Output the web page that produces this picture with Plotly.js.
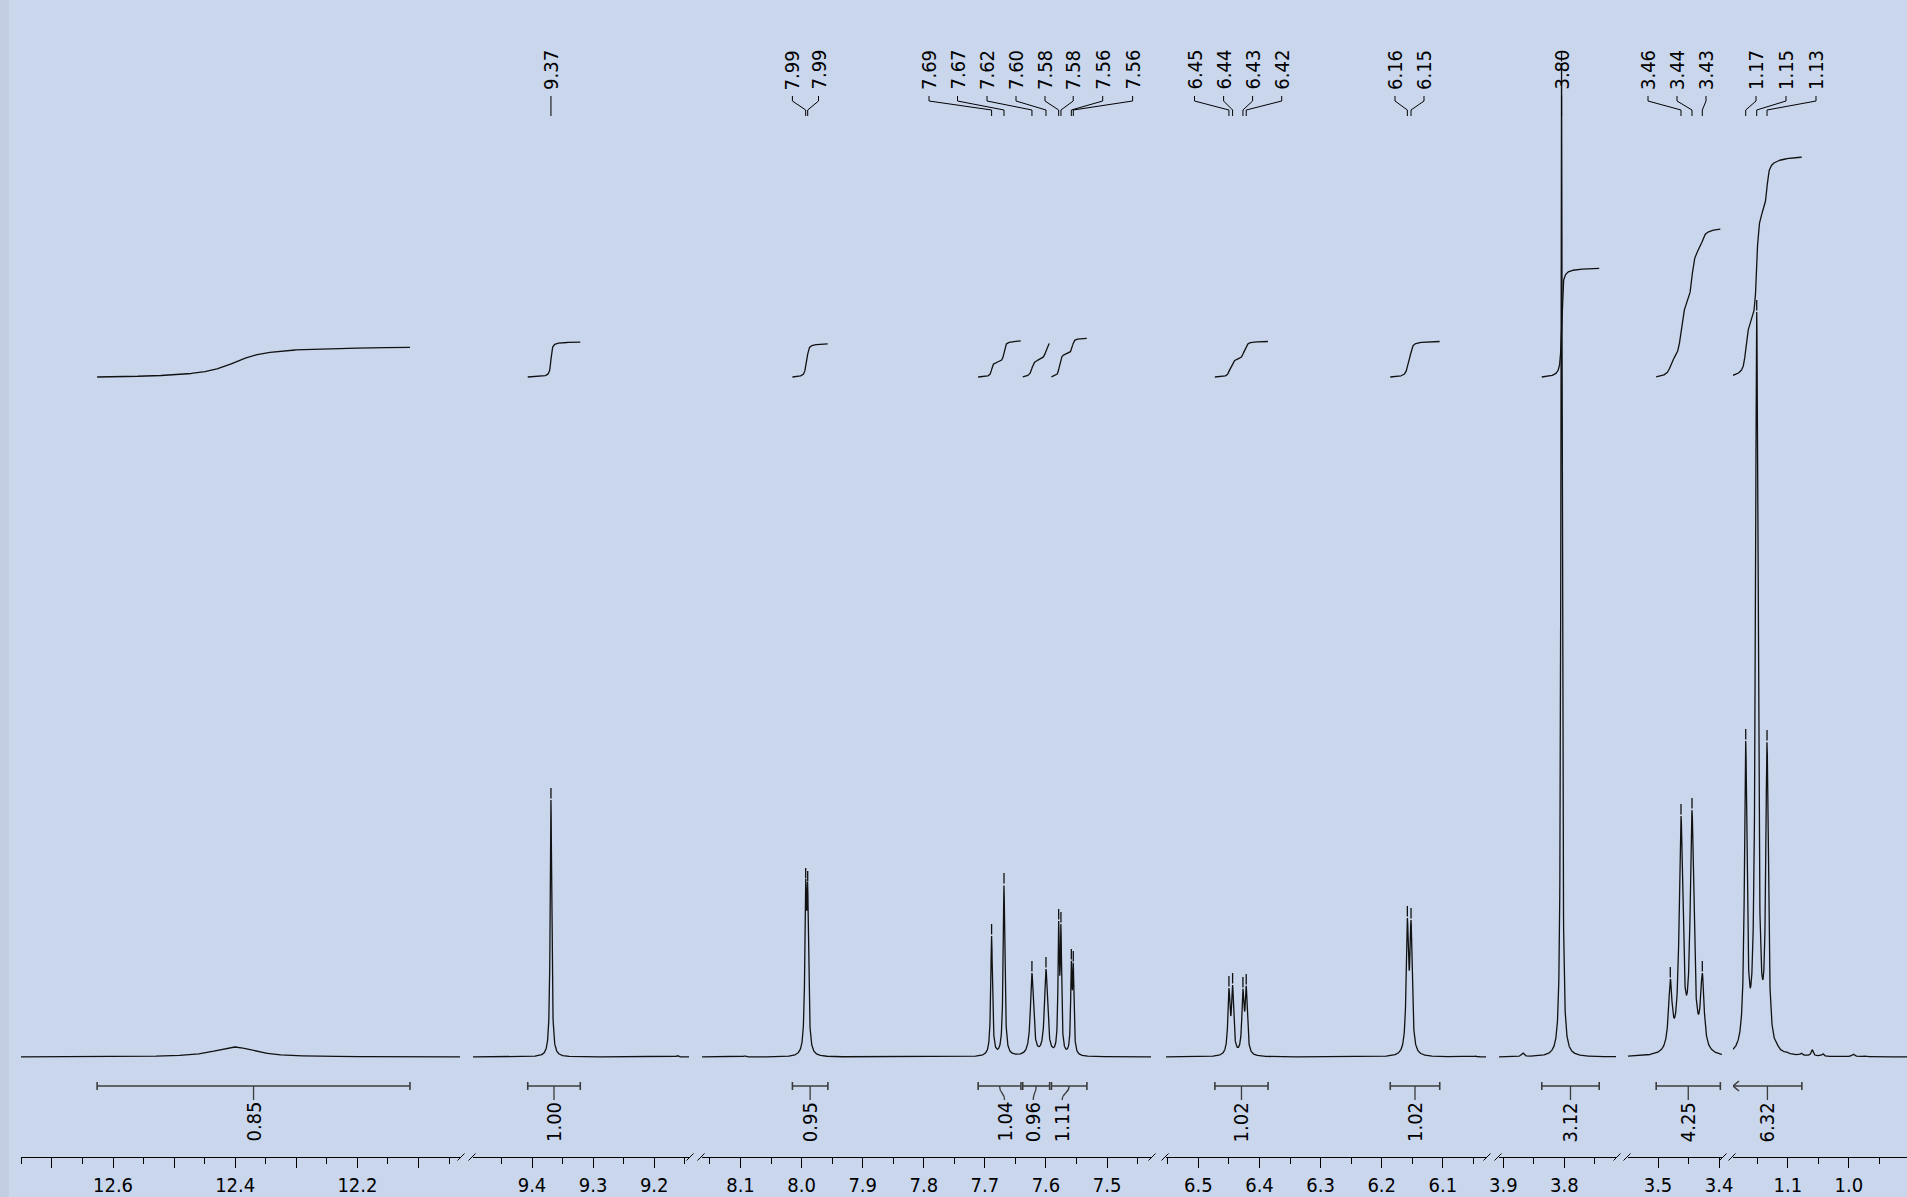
<!DOCTYPE html>
<html><head><meta charset="utf-8">
<script src="https://cdn.plot.ly/plotly-3.0.1.min.js"></script>
<style>html,body{margin:0;padding:0;background:#C9D6EC;}#chart{width:1907px;height:1197px;}</style>
</head><body><div id="chart"></div>
<script>
// ================= DATA =================
// broken ppm axis: visible windows (high -> low ppm)
const segStartPpm = [12.7506, 9.4966, 8.1630, 6.5530, 3.9070, 3.5491, 1.1897];
const segEndPpm   = [12.0321, 9.1430, 7.4281, 6.0293, 3.7155, 3.3953, 0.9049];
const segTickVals = [[12.7,12.6,12.5,12.4,12.3,12.2,12.1],[9.4,9.3,9.2],[8.1,8.0,7.9,7.8,7.7,7.6,7.5],[6.5,6.4,6.3,6.2,6.1],[3.9,3.8],[3.5,3.4],[1.1,1.0]];
const segTickText = [['','12.6','','12.4','','12.2',''],['9.4','9.3','9.2'],['8.1','8.0','7.9','7.8','7.7','7.6','7.5'],['6.5','6.4','6.3','6.2','6.1'],['3.9','3.8'],['3.5','3.4'],['1.1','1.0']];

// spectral lines: shift (ppm), apparent apex height, line width (ppm)
const peakShift  = [12.401, 9.369, 9.162, 8.093, 7.9933, 7.9900, 7.6890, 7.6687, 7.6230, 7.6000, 7.5792, 7.5755, 7.5585, 7.5553, 6.4500, 6.4440, 6.4271, 6.4217, 6.1580, 6.1520, 6.0466, 3.8680, 3.8046, 3.4799, 3.4624, 3.4444, 3.4275, 1.1689, 1.1509, 1.1340, 1.118, 1.102, 1.078, 1.060, 1.043, 0.993, 0.975];
const peakHeight = [10, 257, 1.5, 1.2, 177, 174, 121, 172, 84, 88, 136, 133, 96, 94, 69, 72, 68, 71, 139, 137, 1, 4, 994, 78, 241, 247, 84, 316, 745, 315, 14, 5.5, 4, 7, 3.5, 3, 1.5];
const peakWidth  = [0.080, 0.0029, 0.004, 0.004, 0.0033, 0.0033, 0.0033, 0.0033, 0.0057, 0.0057, 0.0026, 0.0026, 0.0026, 0.0026, 0.0041, 0.0041, 0.0041, 0.0041, 0.0044, 0.0044, 0.004, 0.005, 0.0026, 0.0069, 0.0069, 0.0069, 0.0069, 0.0049, 0.0049, 0.0049, 0.005, 0.004, 0.004, 0.004, 0.004, 0.005, 0.005];
const peakLabel  = ['', '9.37', '', '', '7.99', '7.99', '7.69', '7.67', '7.62', '7.60', '7.58', '7.58', '7.56', '7.56', '6.45', '6.44', '6.43', '6.42', '6.16', '6.15', '', '', '3.80', '', '3.46', '3.44', '3.43', '1.17', '1.15', '1.13', '', '', '', '', '', '', ''];
const peakPicked = [0,1,0,0,1,1,1,1,1,1,1,1,1,1,1,1,1,1,1,1,0,0,1,1,1,1,1,1,1,1,0,0,0,0,0,0,0];

// integrals
const integralFrom  = [12.626, 9.407, 8.015, 7.711, 7.638, 7.591, 6.473, 6.186, 3.837, 3.503, 1.205];
const integralTo    = [12.114, 9.321, 7.957, 7.641, 7.594, 7.533, 6.386, 6.105, 3.743, 3.398, 1.077];
const integralValue = [0.85, 1.00, 0.95, 1.04, 0.96, 1.11, 1.02, 1.02, 3.12, 4.25, 6.32];

// ================= LAYOUT CONSTANTS =================
const W = 1907, H = 1197, PLOT_BOTTOM = 1157, BASE_PY = 1057;
const segDomainPx = [[21,460],[473,689],[702,1151],[1166,1486],[1499,1616],[1628,1722],[1733,1907]];
// label x positions (px) for the labelled peaks, in order (null = at the peak)
const peakLabelPx = [null, 792.4, 818.5, 929, 957.5, 987, 1016, 1045, 1073.2, 1102.7, 1132.6, 1194.5, 1223.6, 1252.6, 1281.7, 1395, 1424, null, 1648, 1677, 1706, 1756, 1786, 1816];
const integralLabelShiftPx = [0,0,0,5,-3,-7,0,0,0,0,0];
const INT_BASE_PY = 377, INT_PX_PER_UNIT = 34.8;
const FONT = '"DejaVu Sans Condensed", "DejaVu Sans", sans-serif';
const INK = '#111111';

// ================= HELPERS =================
const vy = py => BASE_PY - py;                 // y-axis units = px above baseline
const PX = px => px / W;                       // paper x
const PY = py => (PLOT_BOTTOM - py) / PLOT_BOTTOM; // paper y
function segOf(ppm){ for(let i=0;i<segStartPpm.length;i++){ if(ppm<=segStartPpm[i]+1e-9 && ppm>=segEndPpm[i]-1e-9) return i; } return -1; }
function ppmToPx(ppm){ const i=segOf(ppm); const a=segDomainPx[i][0], b=segDomainPx[i][1]; return a+(segStartPpm[i]-ppm)/(segStartPpm[i]-segEndPpm[i])*(b-a); }
const axName = i => 'x' + (i ? (i+1) : '');
const lor = (x, x0, w) => 1/(1+Math.pow(2*(x-x0)/w, 2));

// solve line amplitudes so that apex heights match the read values
const N = peakShift.length;
let amp = peakHeight.slice();
for(let it=0; it<60; it++){
  const nxt = [];
  for(let i=0;i<N;i++){
    let s=0; for(let j=0;j<N;j++){ if(j!==i) s+=amp[j]*lor(peakShift[i],peakShift[j],peakWidth[j]); }
    nxt.push(Math.max(0, peakHeight[i]-s));
  }
  amp = nxt;
}
const model = x => { let s=0; for(let j=0;j<N;j++) s+=amp[j]*lor(x,peakShift[j],peakWidth[j]); return s; };

const traces = [];
const STEP = 0.0002;
// spectrum
for(let i=0;i<segStartPpm.length;i++){
  const xs=[], ys=[];
  for(let x=segStartPpm[i]; x>=segEndPpm[i]; x-=STEP){ xs.push(x); ys.push(model(x)); }
  xs.push(segEndPpm[i]); ys.push(model(segEndPpm[i]));
  traces.push({x:xs,y:ys,xaxis:axName(i),yaxis:'y',mode:'lines',line:{color:INK,width:1.3},hoverinfo:'skip',showlegend:false});
}
// peak pick markers
for(let i=0;i<segStartPpm.length;i++){
  const xs=[], ys=[];
  for(let k=0;k<N;k++){
    if(!peakPicked[k] || segOf(peakShift[k])!==i) continue;
    const top = model(peakShift[k]);
    xs.push(peakShift[k],peakShift[k],null); ys.push(top+1.5,top+12,null);
  }
  if(xs.length) traces.push({x:xs,y:ys,xaxis:axName(i),yaxis:'y',mode:'lines',line:{color:INK,width:1.3},hoverinfo:'skip',showlegend:false});
}
// integrals (curves + brackets)
const shapes = [], annotations = [];
for(let k=0;k<integralValue.length;k++){
  const s = segOf((integralFrom[k]+integralTo[k])/2);
  const hi = Math.min(integralFrom[k], segStartPpm[s]);
  const xs=[], cum=[]; let acc=0;
  for(let x=integralFrom[k]; x>=integralTo[k]; x-=STEP){ acc+=model(x); if(x<=segStartPpm[s]){ xs.push(x); cum.push(acc);} }
  const yc = cum.map(c => vy(INT_BASE_PY) + c/acc*integralValue[k]*INT_PX_PER_UNIT);
  traces.push({x:xs,y:yc,xaxis:axName(s),yaxis:'y',mode:'lines',line:{color:INK,width:1.3},hoverinfo:'skip',showlegend:false});
  const lo = integralTo[k];
  const bY = vy(1086), dp = 6/611;
  let bx, by;
  if(integralFrom[k] > segStartPpm[s]){ // continues beyond window -> arrow
    bx=[hi-dp,hi,hi-dp,null,hi,lo,null,lo,lo]; by=[bY+5,bY,bY-5,null,bY,bY,null,bY+4,bY-4];
  } else {
    bx=[hi,hi,null,hi,lo,null,lo,lo]; by=[bY+4,bY-4,null,bY,bY,null,bY+4,bY-4];
  }
  traces.push({x:bx,y:by,xaxis:axName(s),yaxis:'y',mode:'lines',line:{color:'#3c3c3c',width:1.6},hoverinfo:'skip',showlegend:false});
  const cPx = (ppmToPx(hi)+ppmToPx(lo))/2;
  const lPx = cPx + integralLabelShiftPx[k];
  shapes.push({type:'path',xref:'paper',yref:'paper',path:`M ${PX(cPx)},${PY(1086)} C ${PX(cPx)},${PY(1094)} ${PX(lPx)},${PY(1092)} ${PX(lPx)},${PY(1100)}`,line:{color:'#3c3c3c',width:1.3}});
  annotations.push({xref:'paper',yref:'paper',x:PX(lPx),y:PY(1101),xanchor:'center',yanchor:'top',textangle:-90,showarrow:false,
    text:integralValue[k].toFixed(2),font:{family:FONT,size:20,color:'#000'},borderpad:0});
}
// peak labels
let li=0;
for(let k=0;k<N;k++){
  if(!peakLabel[k]) continue;
  const pPx = ppmToPx(peakShift[k]);
  const lPx = peakLabelPx[li]==null ? pPx : peakLabelPx[li];
  li++;
  annotations.push({xref:'paper',yref:'paper',x:PX(lPx),y:PY(91),xanchor:'center',yanchor:'bottom',textangle:-90,showarrow:false,
    text:peakLabel[k],font:{family:FONT,size:20,color:'#000'},borderpad:0});
  shapes.push({type:'path',xref:'paper',yref:'paper',path:`M ${PX(lPx)},${PY(96)} L ${PX(lPx)},${PY(101)} L ${PX(pPx)},${PY(110)} L ${PX(pPx)},${PY(116)}`,line:{color:'#000',width:1}});
}
// axis break marks
for(let i=0;i<segDomainPx.length-1;i++){
  [segDomainPx[i][1]+1, segDomainPx[i+1][0]-1].forEach(c=>{
    shapes.push({type:'line',xref:'paper',yref:'paper',x0:PX(c-3.5),y0:PY(1160.5),x1:PX(c+3.5),y1:PY(1153.5),line:{color:'#000',width:1}});
  });
}
// left edge strip
shapes.push({type:'rect',xref:'paper',yref:'paper',x0:0,x1:PX(9),y0:PY(H),y1:1,line:{width:0},fillcolor:'#C3CDE1',layer:'below'});

const layout = {
  width:W, height:H, autosize:false,
  margin:{l:0,r:0,t:0,b:H-PLOT_BOTTOM,pad:0},
  paper_bgcolor:'#C9D6EC', plot_bgcolor:'rgba(0,0,0,0)',
  showlegend:false, shapes, annotations,
  yaxis:{domain:[0,1],range:[vy(PLOT_BOTTOM), vy(0)],visible:false,showgrid:false,zeroline:false,fixedrange:true}
};
for(let i=0;i<segStartPpm.length;i++){
  layout['xaxis'+(i?i+1:'')] = {
    domain:[PX(segDomainPx[i][0]), PX(segDomainPx[i][1])],
    range:[segStartPpm[i], segEndPpm[i]], anchor:'y',
    showline:true, linecolor:'#000', linewidth:1, mirror:false,
    showgrid:false, zeroline:false, fixedrange:true,
    ticks:'outside', ticklen:10, tickwidth:1, tickcolor:'#000',
    tickmode:'array', tickvals:segTickVals[i], ticktext:segTickText[i],
    tickfont:{family:FONT,size:20,color:'#000'},
    minor:{tickmode:'linear',tick0:0,dtick:0.05,ticklen:6,tickwidth:1,tickcolor:'#000',ticks:'outside',showgrid:false}
  };
}
Plotly.newPlot('chart', traces, layout, {displayModeBar:false, staticPlot:true});
</script></body></html>
